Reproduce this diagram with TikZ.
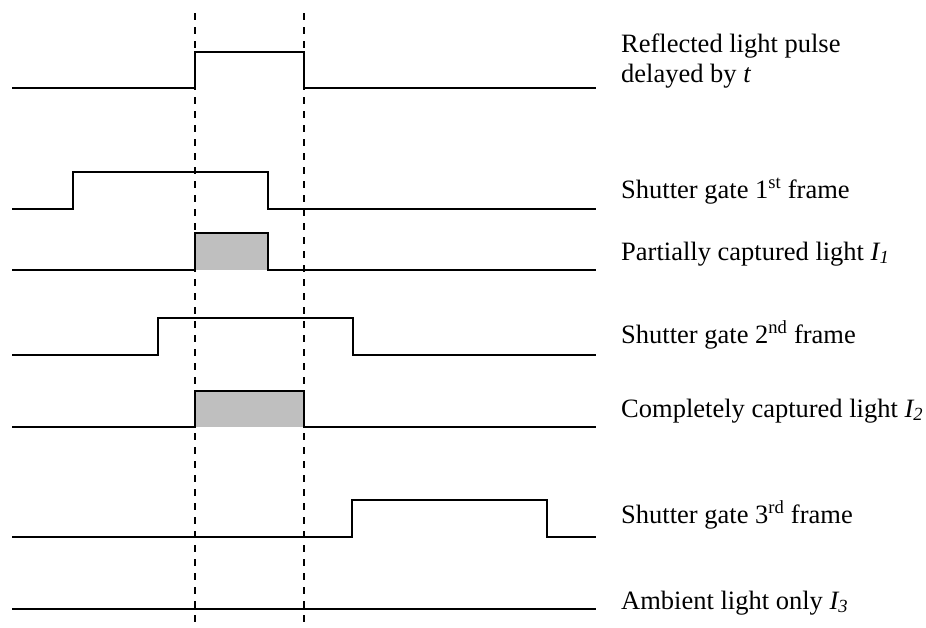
\documentclass[tikz,border=0pt]{standalone}
\usepackage{fontspec}
\setmainfont{Liberation Serif}
\begin{document}
\begin{tikzpicture}[x=1pt,y=-1pt,
  sig/.style={line width=1.8pt,line join=miter},
  guide/.style={line width=1.8pt,dash pattern=on 7pt off 7pt,dash phase=0pt},
  capt/.style={fill=black!25,draw=black,line width=1.8pt},
  lbl/.style={anchor=base west,inner sep=0pt,font=\fontsize{26.5}{30}\selectfont}]
\useasboundingbox (0,0) rectangle (926,627);
% reference edge coordinates
\coordinate (tA) at (195,0);
\coordinate (tB) at (304,0);
% captured light areas
\fill[black!25] (195,233) rectangle (268,270);
\fill[black!25] (195,391) rectangle (304,427);
% dashed guide lines
\draw[guide] (195,13) -- (195,624);
\draw[guide] (304,13) -- (304,624);
% reflected pulse
\draw[sig] (12,88) -- (195,88) -- (195,52) -- (304,52) -- (304,88) -- (596,88);
% shutter gate 1
\draw[sig] (12,209) -- (73,209) -- (73,172) -- (268,172) -- (268,209) -- (596,209);
% partially captured
\draw[sig] (12,270) -- (195,270) -- (195,233) -- (268,233) -- (268,270) -- (596,270);
% shutter gate 2
\draw[sig] (12,355) -- (158,355) -- (158,318) -- (353,318) -- (353,355) -- (596,355);
% completely captured
\draw[sig] (12,427) -- (195,427) -- (195,391) -- (304,391) -- (304,427) -- (596,427);
% shutter gate 3
\draw[sig] (12,537) -- (352,537) -- (352,500) -- (547,500) -- (547,537) -- (596,537);
% ambient
\draw[sig] (12,609) -- (596,609);
% labels
\node[lbl] (l1a) at (621,52) {Reflected light pulse};
\node[lbl] (l1b) at (621,82) {delayed by \textit{t}};
\node[lbl] (l2) at (621,198) {Shutter gate 1\textsuperscript{st} frame};
\node[lbl] (l3) at (621,260) {Partially captured light \textit{I\textsubscript{1}}};
\node[lbl] (l4) at (621,343) {Shutter gate 2\textsuperscript{nd} frame};
\node[lbl] (l5) at (621,417) {Completely captured light \textit{I\textsubscript{2}}};
\node[lbl] (l6) at (621,523) {Shutter gate 3\textsuperscript{rd} frame};
\node[lbl] (l7) at (621,609) {Ambient light only \textit{I\textsubscript{3}}};
\end{tikzpicture}
\end{document}
